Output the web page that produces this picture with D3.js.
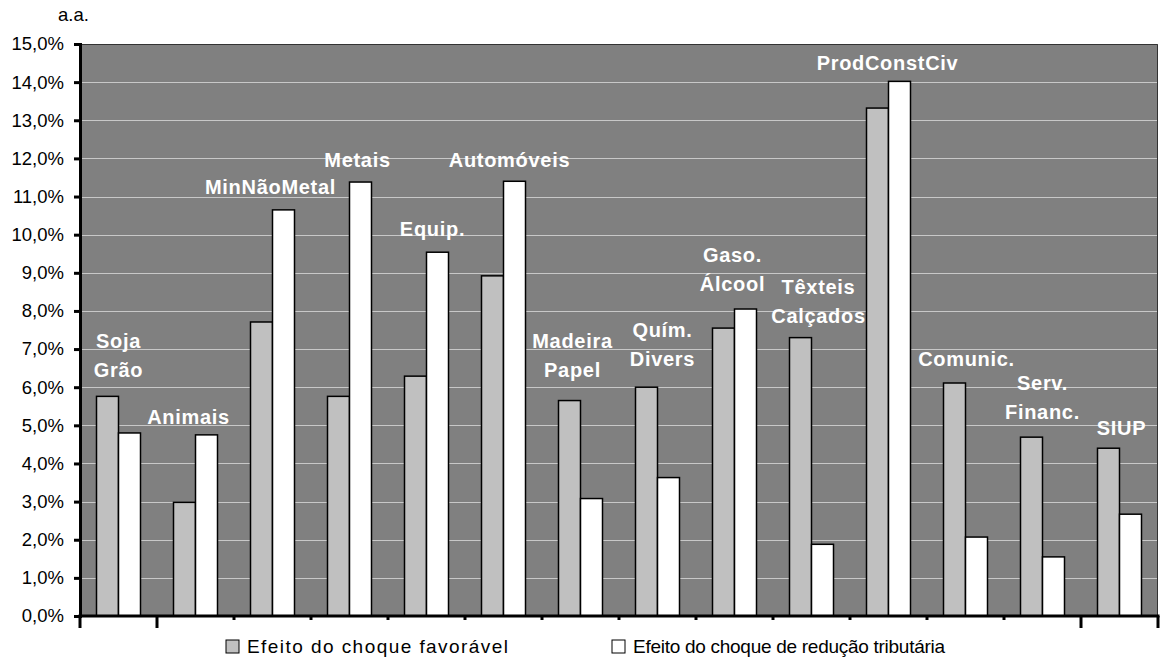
<!DOCTYPE html>
<html>
<head>
<meta charset="utf-8">
<title>Efeito dos choques por setor</title>
<style>
  body { margin: 0; background: #fff; }
  text { font-family: "Liberation Sans", Arial, sans-serif; }
</style>
</head>
<body>
<script src="https://cdn.jsdelivr.net/npm/d3@7"></script>
<script>
// categorias (rótulos em uma ou duas linhas)
var categories = [
  ['Soja', 'Grão'], ['Animais'], ['MinNãoMetal'], ['Metais'], ['Equip.'],
  ['Automóveis'], ['Madeira', 'Papel'], ['Quím.', 'Divers'], ['Gaso.', 'Álcool'],
  ['Têxteis', 'Calçados'], ['ProdConstCiv'], ['Comunic.'], ['Serv.', 'Financ.'], ['SIUP']
];
var seriesNames = ['Efeito do choque favorável', 'Efeito do choque de redução tributária'];
var favoravel = [5.76, 2.98, 7.71, 5.76, 6.29, 8.92, 5.65, 6.00, 7.55, 7.30, 13.32, 6.11, 4.69, 4.40];
var reducao   = [4.80, 4.75, 10.65, 11.38, 9.54, 11.40, 3.08, 3.63, 8.05, 1.88, 14.02, 2.07, 1.55, 2.67];
var yTicks = d3.range(0, 16);
// altura (em %) onde fica o rótulo de cada setor, e deslocamento horizontal
var labelAt = [7.20, 5.21, 11.24, 11.97, 10.14, 11.97, 7.20, 7.49, 9.46, 8.62, 14.49, 6.75, 6.12, 4.92];
var labelDx = [0, -7, -2, 8, 6, 6, -8, 5, -2, 7, -1, 1, 0, 2];

var W = 1162, H = 659;
var mLeft = 80, mRight = 1158, mTop = 44, mBottom = 616;

var svg = d3.select('body').append('svg').attr('width', W).attr('height', H);

var x = d3.scaleBand().domain(d3.range(categories.length)).range([mLeft, mRight]).paddingInner(0).paddingOuter(0);
var x1 = d3.scaleBand().domain([0, 1]).range([0, x.bandwidth()]).paddingInner(0).paddingOuter(0.75);
var y = d3.scaleLinear().domain([0, 15]).range([mBottom, mTop]);

// fundo da área de plotagem
svg.append('rect')
  .attr('x', mLeft).attr('y', mTop)
  .attr('width', mRight - mLeft).attr('height', mBottom - mTop)
  .attr('fill', '#808080');

// linhas de grade
svg.append('g').selectAll('line')
  .data(yTicks.slice(1, -1))
  .enter().append('line')
  .attr('x1', mLeft).attr('x2', mRight)
  .attr('y1', function(d){ return Math.round(y(d)) + 0.5; })
  .attr('y2', function(d){ return Math.round(y(d)) + 0.5; })
  .attr('stroke', '#c8c8c8').attr('stroke-width', 1);

// borda superior e direita
svg.append('path')
  .attr('d', 'M' + mLeft + ',' + (mTop + 0.5) + 'H' + (mRight - 0.5) + 'V' + mBottom)
  .attr('fill', 'none').attr('stroke', '#333').attr('stroke-width', 1);

// barras
var groups = svg.append('g').selectAll('g')
  .data(categories)
  .enter().append('g')
  .attr('transform', function(d, i){ return 'translate(' + x(i) + ',0)'; });

groups.selectAll('rect')
  .data(function(d, i){ return [favoravel[i], reducao[i]]; })
  .enter().append('rect')
  .attr('x', function(d, j){ return x1(j); })
  .attr('y', function(d){ return y(d); })
  .attr('width', x1.bandwidth())
  .attr('height', function(d){ return mBottom - y(d); })
  .attr('fill', function(d, j){ return j === 0 ? '#c0c0c0' : '#ffffff'; })
  .attr('stroke', '#000').attr('stroke-width', 1.5);

// rótulos dos setores
groups.append('text')
  .attr('text-anchor', 'middle')
  .attr('fill', '#fff')
  .attr('font-weight', 'bold')
  .attr('font-size', '20px')
  .attr('letter-spacing', '0.7px')
  .each(function(d, i){
    var t = d3.select(this);
    d.forEach(function(line, k){
      t.append('tspan')
        .attr('x', x.bandwidth() / 2 + labelDx[i])
        .attr('y', y(labelAt[i]) + k * 29)
        .attr('dy', '0.35em')
        .text(line);
    });
  });

// eixo Y
var yAxis = d3.axisLeft(y)
  .tickValues(yTicks)
  .tickFormat(function(d){ return d.toFixed(1).replace('.', ',') + '%'; })
  .tickSize(6)
  .tickPadding(10);

var gy = svg.append('g').attr('transform', 'translate(' + mLeft + ',0)').call(yAxis);
gy.select('.domain').attr('stroke', '#000').attr('stroke-width', 3);
gy.selectAll('.tick line').attr('stroke', '#000').attr('stroke-width', 3);
gy.selectAll('.tick text').attr('font-size', '18.5px').attr('fill', '#000')
  .style('font-family', '"Liberation Sans", Arial, sans-serif');

// eixo X (linha e marcas entre categorias)
svg.append('line')
  .attr('x1', mLeft - 1.5).attr('x2', mRight + 1.5)
  .attr('y1', mBottom).attr('y2', mBottom)
  .attr('stroke', '#000').attr('stroke-width', 3);

var nSlots = categories.length;
svg.append('g').selectAll('line')
  .data(d3.range(nSlots + 1))
  .enter().append('line')
  .attr('x1', function(i){ return i < nSlots ? x(i) : mRight; })
  .attr('x2', function(i){ return i < nSlots ? x(i) : mRight; })
  .attr('y1', mBottom)
  .attr('y2', function(i){ return (i <= 1 || i >= nSlots - 1) ? mBottom + 12 : mBottom + 4; })
  .attr('stroke', '#000').attr('stroke-width', 3);

// "a.a."
svg.append('text')
  .attr('x', 58).attr('y', 21)
  .attr('font-size', '18.5px').attr('fill', '#000')
  .text('a.a.');

// legenda
var legendX = [226, 612];
var legendLen = [261, 312];
var legend = svg.append('g').selectAll('g')
  .data(seriesNames)
  .enter().append('g')
  .attr('transform', function(d, i){ return 'translate(' + legendX[i] + ',640)'; });

legend.append('rect')
  .attr('width', 13).attr('height', 13)
  .attr('fill', function(d, i){ return i === 0 ? '#c0c0c0' : '#fff'; })
  .attr('stroke', '#000').attr('stroke-width', 1);

legend.append('text')
  .attr('x', 21).attr('y', 6.5).attr('dy', '0.35em')
  .attr('font-size', '19px').attr('fill', '#000')
  .attr('textLength', function(d, i){ return legendLen[i]; })
  .attr('lengthAdjust', 'spacing')
  .text(function(d){ return d; });
</script>
</body>
</html>
